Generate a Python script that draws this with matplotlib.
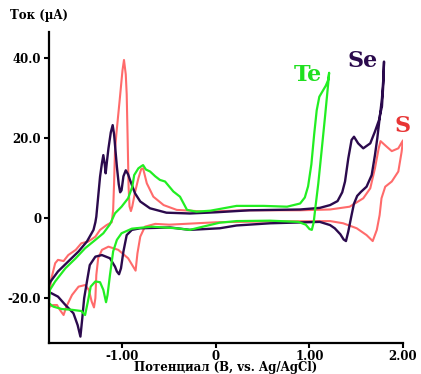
import matplotlib
matplotlib.use("Agg")
import matplotlib.pyplot as plt

# cyclic voltammograms, each loop: forward (upper) branch, then return (lower) branch
se_v = [-1.80, -1.775, -1.69, -1.58, -1.47, -1.38, -1.31, -1.29, -1.28, -1.26, -1.24,
        -1.22, -1.205, -1.19, -1.18, -1.165, -1.15, -1.125, -1.105, -1.09, -1.06, -1.04,
        -1.025, -1.01, -0.99, -0.965, -0.94, -0.92, -0.866, -0.81, -0.706, -0.53, -0.28,
        0.0, 0.36, 0.9, 1.11, 1.22, 1.30, 1.35, 1.38, 1.415, 1.45, 1.476, 1.52, 1.575,
        1.65, 1.70, 1.75, 1.775, 1.79, 1.797,
        1.79, 1.775, 1.754, 1.725, 1.70, 1.665, 1.61, 1.55, 1.51, 1.475, 1.45, 1.415,
        1.39, 1.365, 1.33, 1.27, 1.22, 1.11, 0.58, 0.22, 0.04, -0.28, -0.49, -0.81,
        -0.90, -0.955, -0.99, -1.016, -1.037, -1.06, -1.08, -1.134, -1.22, -1.29, -1.35,
        -1.38, -1.41, -1.43, -1.45, -1.48, -1.525, -1.61, -1.69, -1.76, -1.80]
se_i = [-17.5, -16.0, -13.3, -10.8, -8.3, -5.8, -2.9, -1.0, 0.4, 5.4, 10.4,
        13.75, 15.8, 13.5, 11.25, 14.5, 17.5, 21.5, 23.3, 21.0, 12.9, 8.5,
        6.5, 7.0, 10.5, 12.0, 11.0, 9.6, 6.25, 4.2, 2.5, 1.4, 1.2,
        1.5, 2.0, 2.2, 2.6, 3.3, 4.3, 6.5, 9.2, 15.0, 19.6, 20.4, 18.75, 17.5,
        18.75, 21.7, 25.0, 30.0, 35.0, 39.2,
        33.75, 28.0, 25.8, 20.0, 15.8, 10.8, 7.9, 6.6, 5.6, 3.6, 0.8, -3.3,
        -5.7, -5.3, -4.0, -2.5, -1.7, -0.9, -1.25, -1.8, -2.5, -2.9, -2.3, -2.5,
        -2.9, -4.2, -8.3, -12.5, -14.0, -13.3, -12.1, -10.0, -9.2, -9.6, -11.7,
        -15.8, -20.0, -25.0, -29.6, -26.7, -23.75, -21.7, -19.6, -18.75, -18.3]

te_v = [-1.786, -1.776, -1.72, -1.61, -1.50, -1.40, -1.29, -1.205, -1.134, -1.08, -1.01,
        -0.94, -0.895, -0.875, -0.83, -0.80, -0.78, -0.75, -0.705, -0.65, -0.60, -0.545,
        -0.456, -0.385, -0.31, -0.21, -0.06, 0.22, 0.51, 0.76, 0.90, 0.95, 0.985, 1.02,
        1.05, 1.077, 1.105, 1.14, 1.175, 1.20, 1.21,
        1.20, 1.166, 1.13, 1.094, 1.06, 1.045, 1.025, 1.00, 0.96, 0.88, 0.58, 0.22,
        0.04, -0.14, -0.28, -0.42, -0.69, -0.90, -1.01, -1.06, -1.10, -1.134, -1.16,
        -1.176, -1.205, -1.24, -1.29, -1.34, -1.37, -1.40, -1.44, -1.54, -1.65, -1.74,
        -1.786]
te_i = [-21.25, -17.9, -15.8, -12.5, -10.0, -7.5, -5.4, -3.75, -1.5, 1.25, 2.9,
        5.0, 7.9, 10.8, 12.5, 13.0, 13.3, 12.2, 11.7, 10.5, 9.6, 9.2,
        6.7, 5.4, 2.1, 1.65, 1.9, 3.1, 3.1, 2.9, 3.7, 5.2, 8.0, 13.5,
        21.0, 27.0, 30.4, 31.8, 33.2, 34.6, 36.4,
        33.7, 25.4, 17.0, 8.7, 2.1, -1.0, -2.9, -2.7, -1.6, -0.9, -0.6, -0.7,
        -1.1, -2.1, -2.9, -2.5, -2.1, -2.6, -3.75, -5.4, -8.3, -14.2, -19.2,
        -21.0, -17.9, -16.0, -15.8, -17.1, -20.8, -24.2, -23.2, -22.9, -22.7, -22.1,
        -21.25]

s_v = [-1.80, -1.76, -1.72, -1.69, -1.63, -1.58, -1.50, -1.44, -1.365, -1.29, -1.24,
       -1.17, -1.115, -1.10, -1.09, -1.08, -1.065, -1.03, -1.0, -0.984, -0.965, -0.955,
       -0.945, -0.935, -0.925, -0.91, -0.895, -0.866, -0.83, -0.80, -0.78, -0.74, -0.67,
       -0.56, -0.42, -0.10, 0.3, 0.9, 1.22, 1.43, 1.575, 1.65, 1.70, 1.74, 1.76, 1.826,
       1.88, 1.95, 2.0,
       1.985, 1.95, 1.88, 1.81, 1.77, 1.75, 1.72, 1.676, 1.61, 1.505, 1.36, 1.22, 0.5,
       0.0, -0.5, -0.65, -0.76, -0.81, -0.84, -0.86, -0.94, -1.045, -1.15, -1.22, -1.26,
       -1.28, -1.29, -1.305, -1.33, -1.36, -1.40, -1.47, -1.54, -1.60, -1.63, -1.67,
       -1.70, -1.74, -1.776, -1.80]
s_i = [-21.7, -15.0, -11.25, -10.4, -10.7, -9.2, -7.9, -6.25, -5.8, -4.6, -2.9,
       -1.7, -1.0, 2.1, 8.75, 17.0, 21.25, 29.6, 37.0, 39.6, 36.0, 31.0,
       20.0, 8.0, 3.0, 1.8, 3.0, 6.5, 10.0, 12.3, 12.5, 8.75, 5.4,
       3.3, 2.1, 1.65, 2.0, 2.0, 2.2, 2.9, 5.0, 7.5, 12.5, 17.5, 19.3, 17.9,
       16.8, 17.5, 19.5,
       16.6, 11.7, 9.2, 7.9, 5.0, 0.8, -2.9, -5.7, -4.2, -2.5, -1.25, -0.7, -0.8,
       -1.0, -1.6, -1.4, -2.1, -4.6, -8.75, -13.1, -10.0, -7.9, -7.1, -7.9, -10.0,
       -14.2, -20.0, -22.3, -20.8, -17.9, -16.7, -17.1, -19.2, -22.1, -24.2, -22.9,
       -21.7, -21.7, -22.1, -21.7]

x_ticks = [-1.0, 0.0, 1.0, 2.0]
x_labels = ["-1.00", "0", "1.00", "2.00"]
y_ticks = [-20, 0, 20, 40]
y_labels = ["-20.0", "0", "20.0", "40.0"]

se_col = "#2b0a4d"
te_col = "#22ee22"
s_col = "#ff6b6b"

font = {"family": "DejaVu Serif", "weight": "bold"}

fig = plt.figure(figsize=(4.21, 3.74), dpi=100)
ax = fig.add_axes([49 / 421, 1 - 343 / 374, 354 / 421, 311 / 374])

ax.plot(s_v, s_i, color=s_col, lw=1.5, solid_joinstyle="round")
ax.plot(se_v, se_i, color=se_col, lw=1.7, solid_joinstyle="round")
ax.plot(te_v, te_i, color=te_col, lw=1.6, solid_joinstyle="round")

ax.set_xlim(-1.786, 2.0)
ax.set_ylim(-31.2, 46.6)

for side in ["top", "right"]:
    ax.spines[side].set_visible(False)
for side in ["left", "bottom"]:
    ax.spines[side].set_linewidth(1.6)

ax.set_xticks(x_ticks)
ax.set_xticklabels(x_labels, fontdict=font, fontsize=8.5)
ax.set_yticks(y_ticks)
ax.set_yticklabels(y_labels, fontdict=font, fontsize=8.5)
ax.tick_params(axis="both", direction="out", width=1.5, length=3.5, pad=2)
ax.tick_params(axis="x", pad=1.5)

# axis titles placed where the reference has them
fig.text(226 / 421, 1 - 368 / 374, "Потенциал (B, vs. Ag/AgCl)", fontdict=font,
         fontsize=8.5, ha="center", va="center")
fig.text(10 / 421, 1 - 16 / 374, "Ток (µA)", fontdict=font, fontsize=8.5,
         va="center", ha="left")

ax.text(0.984, 35.8, "Te", color="#1fe01f", fontdict=font, fontsize=16,
        ha="center", va="center")
ax.text(1.572, 39.3, "Se", color=se_col, fontdict=font, fontsize=16,
        ha="center", va="center")
ax.text(2.0, 23.1, "S", color="#e83535", fontdict=font, fontsize=16,
        ha="center", va="center")

fig.savefig("out.png", dpi=100)
